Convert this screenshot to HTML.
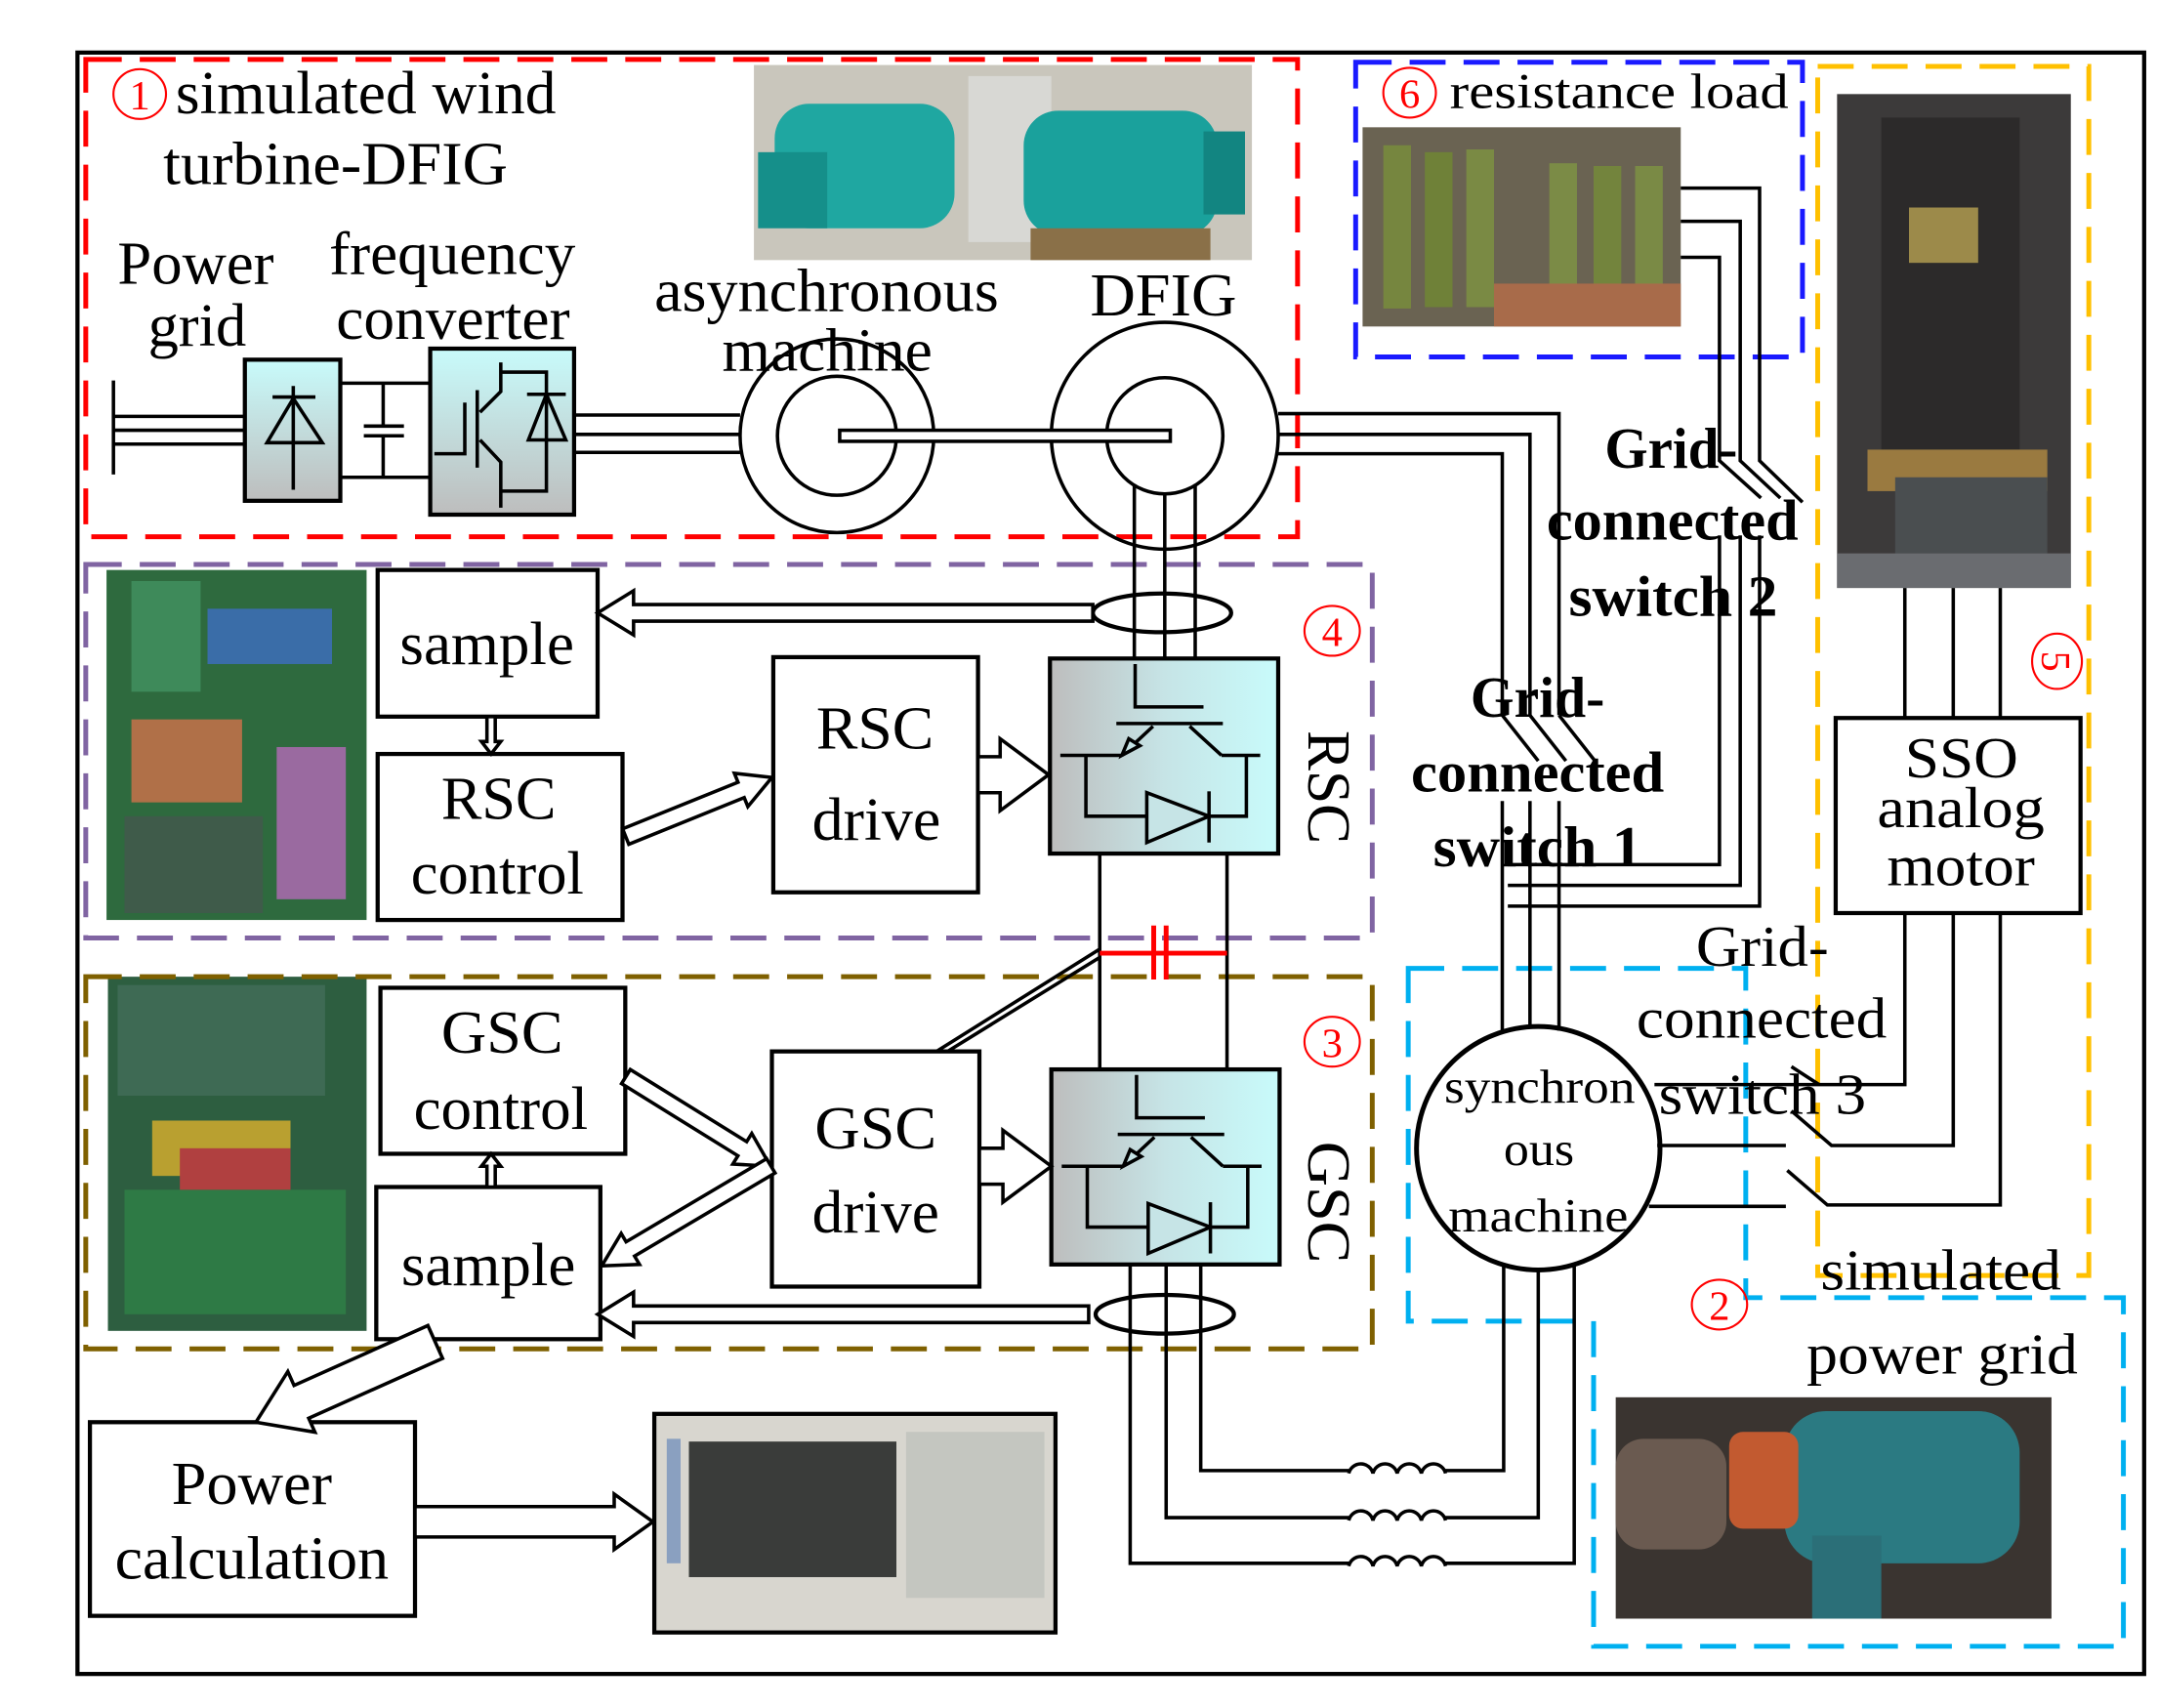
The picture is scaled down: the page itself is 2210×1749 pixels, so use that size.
<!DOCTYPE html>
<html><head><meta charset="utf-8"><style>
html,body{margin:0;padding:0;background:#fff;}
svg{display:block;}
text{font-family:"Liberation Serif",serif;fill:#000;}
</style></head><body>
<svg width="2210" height="1749" viewBox="0 0 1560 1234.6" xmlns="http://www.w3.org/2000/svg">
<defs>
<linearGradient id="gh" x1="0" x2="1" y1="0" y2="0"><stop offset="0" stop-color="#bdbdbd"/><stop offset="0.5" stop-color="#c6e4e6"/><stop offset="1" stop-color="#c8fbfb"/></linearGradient>
<linearGradient id="gv" x1="0" x2="0" y1="0" y2="1"><stop offset="0" stop-color="#c8fbfb"/><stop offset="1" stop-color="#bdbdbd"/></linearGradient>
<g id="igbt" fill="none" stroke="#000" stroke-width="2.5">
<rect x="0" y="0" width="165" height="141" fill="url(#gh)" stroke-width="3"/>
<polyline points="61.6,4 61.6,35 111,35"/>
<line x1="48" y1="47" x2="125" y2="47"/>
<line x1="74.5" y1="49" x2="52" y2="70"/>
<polygon points="52,70 57,58 65,63" fill="#c6e4e6"/>
<line x1="101" y1="49" x2="124" y2="70"/>
<line x1="7.5" y1="70" x2="52" y2="70"/>
<line x1="124" y1="70" x2="152" y2="70"/>
<polyline points="26,70 26,114 142,114 142,70"/>
<polygon points="70,97 70,133 115,114" fill="#c6e4e6"/>
<line x1="115" y1="96" x2="115" y2="133"/>
</g>
</defs>

<rect x="56" y="38" width="1494" height="1172" fill="none" stroke="#000" stroke-width="3"/>

<!-- photos -->
<rect x="545" y="47" width="360" height="141" fill="#c9c6bc"/>
<rect x="700" y="55" width="60" height="120" fill="#d8d8d4"/>
<rect x="560" y="75" width="130" height="90" rx="25" fill="#1fa7a1"/>
<rect x="548" y="110" width="50" height="55" fill="#158f8a"/>
<rect x="740" y="80" width="140" height="90" rx="25" fill="#1aa19c"/>
<rect x="870" y="95" width="30" height="60" fill="#128581"/>
<rect x="745" y="165" width="130" height="23" fill="#8a7048"/>

<rect x="985" y="92" width="230" height="144" fill="#6a6352"/>
<rect x="1000" y="105" width="20" height="118" fill="#76863f"/>
<rect x="1030" y="110" width="20" height="112" fill="#6f8138"/>
<rect x="1060" y="108" width="20" height="114" fill="#7a8a44"/>
<rect x="1120" y="118" width="20" height="104" fill="#7b8b46"/>
<rect x="1152" y="120" width="20" height="102" fill="#73843d"/>
<rect x="1182" y="120" width="20" height="102" fill="#7a8a45"/>
<rect x="1080" y="205" width="135" height="31" fill="#a86b4a"/>

<rect x="1328" y="68" width="169" height="357" fill="#3c3a3a"/>
<rect x="1360" y="85" width="100" height="240" fill="#2c2a2a"/>
<rect x="1380" y="150" width="50" height="40" fill="#9c8a4a"/>
<rect x="1350" y="325" width="130" height="30" fill="#9a7a40"/>
<rect x="1370" y="345" width="110" height="55" fill="#4a4e50"/>
<rect x="1328" y="400" width="169" height="25" fill="#6a6c70"/>

<rect x="77" y="412" width="188" height="253" fill="#2e6a3e"/>
<rect x="95" y="420" width="50" height="80" fill="#3e8a5a"/>
<rect x="150" y="440" width="90" height="40" fill="#3a6da8"/>
<rect x="200" y="540" width="50" height="110" fill="#9a6aa0"/>
<rect x="95" y="520" width="80" height="60" fill="#b07048"/>
<rect x="90" y="590" width="100" height="70" fill="#3f5b4a"/>

<rect x="78" y="706" width="187" height="256" fill="#2d5e40"/>
<rect x="85" y="712" width="150" height="80" fill="#3e6a54"/>
<rect x="110" y="810" width="100" height="40" fill="#b9a030"/>
<rect x="90" y="860" width="160" height="90" fill="#2e7a45"/>
<rect x="130" y="830" width="80" height="30" fill="#b04040"/>

<rect x="1168" y="1010" width="315" height="160" fill="#3a3430"/>
<rect x="1290" y="1020" width="170" height="110" rx="30" fill="#2b7a82"/>
<rect x="1250" y="1035" width="50" height="70" rx="10" fill="#c25a30"/>
<rect x="1310" y="1110" width="50" height="60" fill="#2b6f78"/>
<rect x="1168" y="1040" width="80" height="80" rx="20" fill="#6a5a50"/>

<rect x="473" y="1022" width="290" height="158" fill="#d8d6cf" stroke="#000" stroke-width="3"/>
<rect x="498" y="1042" width="150" height="98" fill="#3a3c3a"/>
<rect x="655" y="1035" width="100" height="120" fill="#c4c6c0"/>
<rect x="482" y="1040" width="10" height="90" fill="#8aa0c0"/>

<g fill="none" stroke-width="3.5" stroke-dasharray="26,13">
<rect x="62" y="43" width="876" height="345" stroke="#ff0000"/>
<rect x="980" y="45" width="323" height="213" stroke="#1a1aff"/>
<rect x="1314" y="48" width="196" height="874" stroke="#ffc000"/>
<rect x="62" y="408" width="930" height="270" stroke="#8064a2"/>
<rect x="62" y="706" width="930" height="269" stroke="#7f6000"/>
<polygon points="1018,700 1262,700 1262,938 1535,938 1535,1190 1152,1190 1152,955 1018,955" stroke="#00b0f0"/>
</g>

<g fill="none" stroke="#000" stroke-width="2.5">
<line x1="82" y1="275" x2="82" y2="343"/>
<line x1="82" y1="301" x2="177" y2="301"/>
<line x1="82" y1="311" x2="177" y2="311"/>
<line x1="82" y1="321" x2="177" y2="321"/>
<line x1="246" y1="277" x2="311" y2="277"/>
<line x1="246" y1="345" x2="311" y2="345"/>
<line x1="277" y1="277" x2="277" y2="308"/><line x1="277" y1="315" x2="277" y2="345"/>
<line x1="263" y1="308" x2="292" y2="308"/><line x1="263" y1="315" x2="292" y2="315"/>
<rect x="177" y="260" width="69" height="102" fill="url(#gv)" stroke-width="3"/>
<line x1="212" y1="279" x2="212" y2="354"/>
<line x1="197" y1="287" x2="228" y2="287"/>
<polygon points="212,288 193,320 233,320"/>
<rect x="311" y="252" width="104" height="120" fill="url(#gv)" stroke-width="3"/>
<polyline points="314,328 336,328 336,291"/>
<line x1="345" y1="282" x2="345" y2="338"/>
<polyline points="347,298 362,283 362,262"/>
<polyline points="362,269 395,269 395,355 362,355"/>
<polyline points="347,318 362,334 362,367"/>
<line x1="381" y1="285" x2="409" y2="285"/>
<polygon points="395,285 382,318 409,318"/>
<line x1="415" y1="300" x2="535" y2="300"/>
<line x1="415" y1="314" x2="535" y2="314"/>
<line x1="415" y1="327" x2="535" y2="327"/>
<circle cx="605" cy="315" r="70"/>
<circle cx="605" cy="315" r="43"/>
<circle cx="842" cy="315" r="82"/>
<circle cx="842" cy="315" r="42"/>
<rect x="607" y="311" width="239" height="8" fill="#fff"/>
<line x1="820" y1="350" x2="820" y2="476"/>
<line x1="842" y1="357" x2="842" y2="476"/>
<line x1="864" y1="350" x2="864" y2="476"/>
<ellipse cx="840" cy="443" rx="50" ry="14" stroke-width="3"/>
<line x1="795" y1="617" x2="795" y2="773"/>
<line x1="887" y1="617" x2="887" y2="773"/>
<polyline points="868,915 868,1063 975,1063"/>
<polyline points="843,915 843,1097 975,1097"/>
<polyline points="817,915 817,1130 975,1130"/>
<ellipse cx="842" cy="950" rx="50" ry="14" stroke-width="3"/>
<path d="M975,1065 a9,9 0 0 1 17.5,0 a9,9 0 0 1 17.5,0 a9,9 0 0 1 17.5,0 a9,9 0 0 1 17.5,0"/>
<path d="M975,1099 a9,9 0 0 1 17.5,0 a9,9 0 0 1 17.5,0 a9,9 0 0 1 17.5,0 a9,9 0 0 1 17.5,0"/>
<path d="M975,1132 a9,9 0 0 1 17.5,0 a9,9 0 0 1 17.5,0 a9,9 0 0 1 17.5,0 a9,9 0 0 1 17.5,0"/>
<polyline points="1045,1063 1087,1063 1087,915"/>
<polyline points="1045,1097 1112,1097 1112,918"/>
<polyline points="1045,1130 1138,1130 1138,915"/>
<polyline points="924,299 1127,299 1127,517"/>
<polyline points="924,314 1106,314 1106,517"/>
<polyline points="924,328 1086,328 1086,517"/>
<line x1="1086" y1="517" x2="1112" y2="550"/>
<line x1="1106" y1="517" x2="1132" y2="550"/>
<line x1="1127" y1="517" x2="1153" y2="550"/>
<line x1="1086" y1="579" x2="1086" y2="745"/>
<line x1="1106" y1="579" x2="1106" y2="743"/>
<line x1="1127" y1="579" x2="1127" y2="745"/>
<polyline points="1215,136 1272,136 1272,333 1303,363"/>
<polyline points="1215,160 1258,160 1258,333 1287,360"/>
<polyline points="1215,186 1243,186 1243,333 1273,360"/>
<polyline points="1243,387 1243,625 1090,625"/>
<polyline points="1258,387 1258,640 1090,640"/>
<polyline points="1272,387 1272,655 1090,655"/>
<circle cx="1112" cy="830" r="88" stroke-width="3.5"/>
<polyline points="1196,784 1377,784 1377,660"/>
<line x1="1295" y1="771" x2="1315" y2="784"/>
<line x1="1198" y1="828" x2="1291" y2="828"/>
<polyline points="1295,803 1324,828 1412,828 1412,660"/>
<line x1="1192" y1="872" x2="1291" y2="872"/>
<polyline points="1292,846 1321,871 1446,871 1446,660"/>
<line x1="1377" y1="425" x2="1377" y2="519"/>
<line x1="1412" y1="425" x2="1412" y2="519"/>
<line x1="1446" y1="425" x2="1446" y2="519"/>
<g stroke-width="3">
<rect x="273" y="412" width="159" height="106" fill="#fff"/>
<rect x="273" y="545" width="177" height="120" fill="#fff"/>
<rect x="559" y="475" width="148" height="170" fill="#fff"/>
<rect x="275" y="714" width="177" height="120" fill="#fff"/>
<rect x="272" y="858" width="162" height="110" fill="#fff"/>
<rect x="558" y="760" width="150" height="170" fill="#fff"/>
<rect x="65" y="1028" width="235" height="140" fill="#fff"/>
<rect x="1327" y="519" width="177" height="141" fill="#fff"/>
</g>
<line x1="677" y1="760" x2="795" y2="686"/>
<line x1="685" y1="760" x2="795" y2="692"/>
</g>
<use href="#igbt" x="759" y="476"/>
<use href="#igbt" x="760" y="773"/>

<g stroke="#ff0000" stroke-width="3.5" fill="none">
<line x1="795" y1="689" x2="887" y2="689"/>
<line x1="834" y1="669" x2="834" y2="708"/>
<line x1="843" y1="669" x2="843" y2="708"/>
</g>

<g fill="#fff" stroke="#000" stroke-width="2.5">
<polygon transform="translate(432,443) rotate(180)" points="0,0 -26,-16 -26,-6 -358,-6 -358,6 -26,6 -26,16"/>
<polygon transform="translate(432,950) rotate(180)" points="0,0 -26,-16 -26,-6 -355,-6 -355,6 -26,6 -26,16"/>
<polygon transform="translate(355,545) rotate(90)" points="0,0 -9,-7 -9,-3 -27,-3 -27,3 -9,3 -9,7"/>
<polygon transform="translate(355,834) rotate(-90)" points="0,0 -9,-7 -9,-3 -24,-3 -24,3 -9,3 -9,7"/>
<polygon transform="translate(558,562) rotate(-22)" points="0,0 -24,-13 -24,-6 -114,-6 -114,6 -24,6 -24,13"/>
<polygon transform="translate(557,843) rotate(31.8)" points="0,0 -24,-13 -24,-6 -123,-6 -123,6 -24,6 -24,13"/>
<polygon transform="translate(435,915) rotate(149.4)" points="0,0 -24,-13 -24,-6 -142,-6 -142,6 -24,6 -24,13"/>
<polygon transform="translate(758,560)" points="0,0 -35,-26 -35,-13 -51,-13 -51,13 -35,13 -35,26"/>
<polygon transform="translate(760,843)" points="0,0 -35,-26 -35,-13 -52,-13 -52,13 -35,13 -35,26"/>
<polygon transform="translate(185,1028) rotate(155.9)" points="0,0 -36,-24 -36,-13 -142,-13 -142,13 -36,13 -36,24"/>
<polygon transform="translate(472,1100)" points="0,0 -28,-20 -28,-11 -172,-11 -172,11 -28,11 -28,20"/>
</g>

<g font-size="44">
<text x="127" y="82" textLength="275" lengthAdjust="spacingAndGlyphs">simulated wind</text>
<text x="118" y="133" textLength="249" lengthAdjust="spacingAndGlyphs">turbine-DFIG</text>
<text x="85" y="205" textLength="113" lengthAdjust="spacingAndGlyphs">Power</text>
<text x="107" y="250" textLength="71" lengthAdjust="spacingAndGlyphs">grid</text>
<text x="238" y="198" textLength="178" lengthAdjust="spacingAndGlyphs">frequency</text>
<text x="243" y="245" textLength="169" lengthAdjust="spacingAndGlyphs">converter</text>
<text x="473" y="225" textLength="249" lengthAdjust="spacingAndGlyphs">asynchronous</text>
<text x="522" y="268" textLength="152" lengthAdjust="spacingAndGlyphs">machine</text>
<text x="788" y="228" textLength="106" lengthAdjust="spacingAndGlyphs">DFIG</text>
<text x="289" y="480" textLength="126" lengthAdjust="spacingAndGlyphs">sample</text>
<text x="319" y="592" textLength="83" lengthAdjust="spacingAndGlyphs">RSC</text>
<text x="297" y="646" textLength="125" lengthAdjust="spacingAndGlyphs">control</text>
<text x="590" y="541" textLength="85" lengthAdjust="spacingAndGlyphs">RSC</text>
<text x="587" y="607" textLength="93" lengthAdjust="spacingAndGlyphs">drive</text>
<text x="319" y="761" textLength="88" lengthAdjust="spacingAndGlyphs">GSC</text>
<text x="299" y="816" textLength="126" lengthAdjust="spacingAndGlyphs">control</text>
<text x="290" y="929" textLength="126" lengthAdjust="spacingAndGlyphs">sample</text>
<text x="589" y="830" textLength="88" lengthAdjust="spacingAndGlyphs">GSC</text>
<text x="587" y="891" textLength="92" lengthAdjust="spacingAndGlyphs">drive</text>
<text x="124" y="1087" textLength="116" lengthAdjust="spacingAndGlyphs">Power</text>
<text x="83" y="1141" textLength="198" lengthAdjust="spacingAndGlyphs">calculation</text>
</g>
<g font-size="42" font-weight="bold">
<text x="1160" y="338" textLength="96" lengthAdjust="spacingAndGlyphs">Grid-</text>
<text x="1118" y="390" textLength="182" lengthAdjust="spacingAndGlyphs">connected</text>
<text x="1134" y="445" textLength="151" lengthAdjust="spacingAndGlyphs">switch 2</text>
<text x="1063" y="518" textLength="97" lengthAdjust="spacingAndGlyphs">Grid-</text>
<text x="1020" y="572" textLength="183" lengthAdjust="spacingAndGlyphs">connected</text>
<text x="1036" y="626" textLength="151" lengthAdjust="spacingAndGlyphs">switch 1</text>
</g>
<g font-size="42">
<text x="1226" y="698" textLength="96" lengthAdjust="spacingAndGlyphs">Grid-</text>
<text x="1183" y="750" textLength="181" lengthAdjust="spacingAndGlyphs">connected</text>
<text x="1199" y="805" textLength="150" lengthAdjust="spacingAndGlyphs">switch 3</text>
<text x="1316" y="932" textLength="174" lengthAdjust="spacingAndGlyphs">simulated</text>
<text x="1306" y="993" textLength="196" lengthAdjust="spacingAndGlyphs">power grid</text>
<text x="1377" y="562" textLength="82" lengthAdjust="spacingAndGlyphs">SSO</text>
<text x="1357" y="598" textLength="121" lengthAdjust="spacingAndGlyphs">analog</text>
<text x="1364" y="640" textLength="107" lengthAdjust="spacingAndGlyphs">motor</text>
</g>
<g font-size="36">
<text x="1048" y="78" textLength="245" lengthAdjust="spacingAndGlyphs">resistance load</text>
</g>
<g font-size="34">
<text x="1044" y="797" textLength="138" lengthAdjust="spacingAndGlyphs">synchron</text>
<text x="1087" y="842" textLength="51" lengthAdjust="spacingAndGlyphs">ous</text>
<text x="1047" y="890" textLength="130" lengthAdjust="spacingAndGlyphs">machine</text>
</g>
<text font-size="44" transform="translate(946,528) rotate(90)" textLength="82" lengthAdjust="spacingAndGlyphs">RSC</text>
<text font-size="44" transform="translate(946,825) rotate(90)" textLength="88" lengthAdjust="spacingAndGlyphs">GSC</text>

<g fill="none" stroke="#ff0000" stroke-width="1.5">
<ellipse cx="101" cy="68" rx="19" ry="18"/>
<ellipse cx="1019" cy="67" rx="19" ry="18"/>
<ellipse cx="963" cy="456" rx="20" ry="18"/>
<ellipse cx="963" cy="753" rx="20" ry="18"/>
<ellipse cx="1243" cy="943" rx="20" ry="18"/>
<ellipse cx="1487" cy="478" rx="18" ry="20"/>
</g>
<g font-size="30" text-anchor="middle">
<text x="101" y="79" style="fill:#f00">1</text>
<text x="1019" y="78" style="fill:#f00">6</text>
<text x="963" y="467" style="fill:#f00">4</text>
<text x="963" y="764" style="fill:#f00">3</text>
<text x="1243" y="954" style="fill:#f00">2</text>
<text transform="translate(1476,478) rotate(90)" style="fill:#f00">5</text>
</g>
</svg>
</body></html>
